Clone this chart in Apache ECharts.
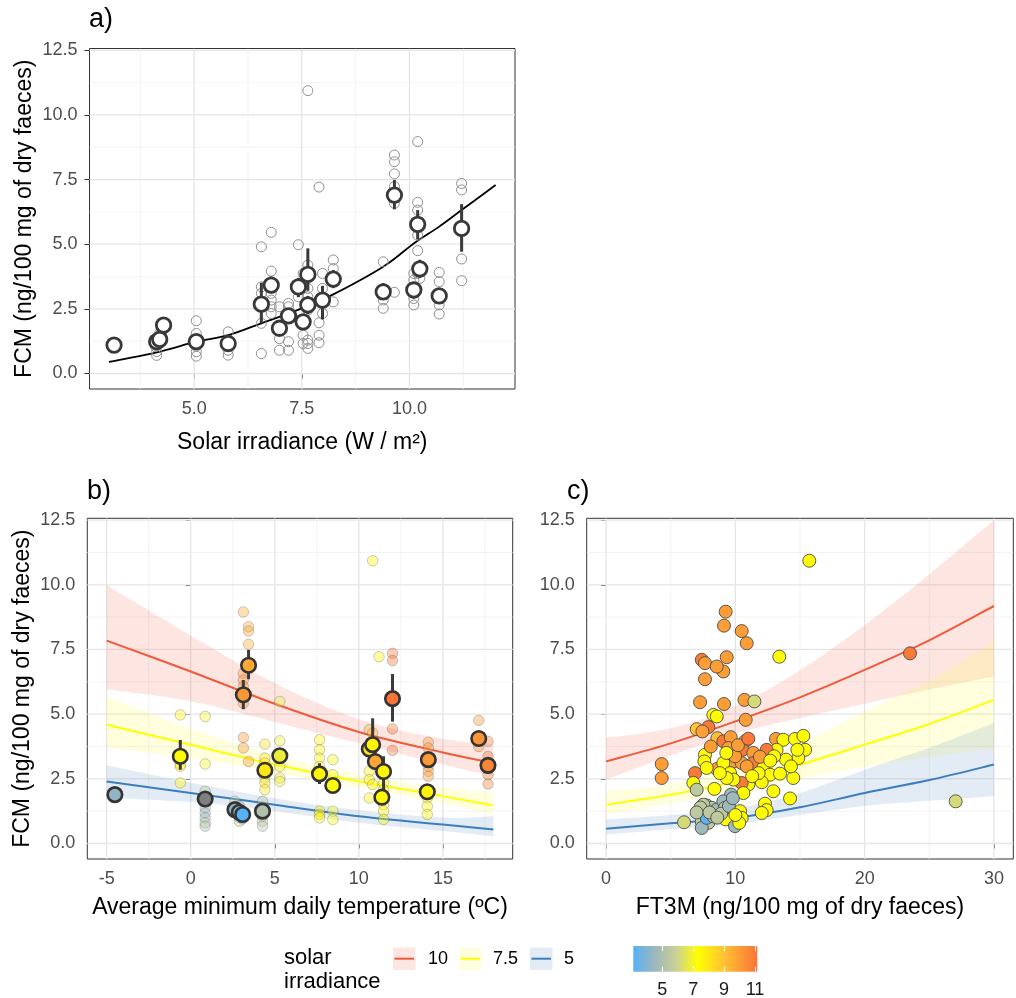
<!DOCTYPE html>
<html><head><meta charset="utf-8">
<script src="https://cdn.jsdelivr.net/npm/echarts@6/dist/echarts.min.js"></script>
<style>html,body{margin:0;padding:0;background:#fff}#c{width:1016px;height:998px}</style>
</head><body><div id="c"></div>
<script>
// ---------------- DATA ----------------
// Panel a: raw observations (solar irradiance, FCM)
const aRawIrr = [4.13,4.13,4.2,4.25,4.1,3.14,5.05,5.05,5.05,5.05,5.05,5.05,5.79,5.79,5.79,5.79,6.56,6.56,6.56,6.56,6.56,6.79,6.79,6.79,6.79,6.79,6.79,6.98,6.98,6.98,6.98,7.19,7.19,7.19,7.19,7.42,7.42,7.42,7.53,7.53,7.53,7.64,7.64,7.64,7.64,7.64,7.64,7.64,7.64,7.9,7.98,7.98,7.9,7.98,7.9,7.9,7.9,8.23,8.23,8.23,9.39,9.39,9.39,9.65,9.65,9.65,9.65,9.65,9.65,10.1,10.1,10.1,10.1,10.19,10.19,10.19,10.19,10.19,10.19,10.24,10.69,10.69,10.69,10.69,11.21,11.21,11.21,11.21];
const aRawFcm = [0.7,0.85,1.55,1.6,1.05,1.1,2.04,1.55,1.29,1.06,0.84,0.67,1.61,1.1,0.9,0.71,4.9,0.77,1.94,3.1,3.35,5.46,3.96,3.1,2.58,2.32,2.84,2.58,1.68,1.35,0.9,2.71,2.58,1.23,0.9,4.98,3.23,2.97,3.87,1.48,1.16,10.94,4.19,3.29,2.97,2.45,1.29,1.16,0.97,7.21,3.87,3.29,2.84,2.32,1.96,1.48,1.19,4.39,4.06,2.77,4.32,2.84,2.52,8.45,8.19,7.72,7.23,6.58,3.14,3.87,3.61,2.9,2.65,8.97,6.62,6.32,5.35,4.75,3.87,3.68,3.91,3.55,2.65,2.30,7.35,7.10,4.43,3.59];
// Panel a: means with error bars
const aMeanIrr = [3.14,4.13,4.20,4.29,5.05,5.79,6.56,6.79,6.98,7.19,7.42,7.53,7.64,7.64,7.98,8.23,9.39,9.65,10.10,10.19,10.24,10.69,11.21];
const aMeanFcm = [1.10,1.23,1.32,1.87,1.23,1.16,2.68,3.42,1.75,2.23,3.35,2.00,3.83,2.65,2.84,3.65,3.16,6.90,3.23,5.77,4.05,3.00,5.61];
const aMeanLo  = [0.95,1.00,1.10,1.65,1.00,0.95,1.94,3.10,1.45,1.95,2.95,1.70,3.20,2.30,2.09,3.30,2.85,6.35,2.90,5.19,3.70,2.70,4.71];
const aMeanHi  = [1.25,1.45,1.55,2.10,1.45,1.35,3.51,3.75,2.00,2.50,3.70,2.30,4.84,3.00,3.39,4.00,3.50,7.48,3.55,6.32,4.40,3.30,6.55];
// Panel a: fitted curve
const aFitIrr = [3.02,4.13,5.05,5.79,6.56,7.5,8.23,9.39,10.1,10.69,11.21,12.0];
const aFitFcm = [0.45,0.82,1.23,1.48,1.94,2.52,3.06,4.13,5.03,5.68,6.32,7.29];

// Panel b: raw observations (temperature, FCM, irradiance)
const bRawTemp = [-0.62,-0.62,-0.62,-0.62,0.86,0.86,0.86,0.86,0.86,0.86,0.86,0.86,0.86,2.63,2.89,2.89,2.89,3.09,3.13,3.44,3.44,3.44,3.13,3.13,3.13,3.13,3.13,3.13,3.44,4.27,4.27,4.27,4.27,4.27,4.41,4.41,4.41,4.41,4.41,4.41,5.3,5.3,5.3,5.3,5.3,7.66,7.66,7.66,7.66,7.66,7.66,7.66,8.45,8.45,8.45,8.45,10.82,10.62,10.82,10.62,10.62,10.82,10.62,11.2,11.47,11.47,11.47,11.47,11.47,12.0,12.0,12.0,12.0,14.13,14.13,14.13,14.13,14.13,14.07,14.07,14.07,17.13,17.13,17.68,17.68,17.68,17.68];
const bRawFcm  = [4.97,3.05,2.98,2.34,4.91,3.07,2.02,1.63,1.38,1.18,0.99,0.8,0.67,1.63,1.45,1.0,0.86,0.95,8.95,8.38,8.21,7.70,6.58,6.32,6.07,5.42,4.1,3.69,3.17,1.63,1.4,1.05,0.86,0.67,3.84,3.3,3.11,2.53,2.34,2.08,5.49,3.97,2.98,2.53,2.4,4.01,3.62,3.3,2.98,1.25,1.12,0.99,3.24,2.66,1.25,0.93,10.93,4.4,4.27,2.79,2.47,2.28,1.76,7.22,2.34,2.08,1.5,1.25,0.93,7.35,7.07,4.43,3.6,3.91,3.69,2.98,2.79,2.6,1.76,1.44,1.12,4.76,3.75,3.95,3.37,2.66,2.3];
const bRawIrr  = [7.4,7.4,7.4,7.4,7.0,7.0,5.5,4.8,4.5,4.5,4.5,5.5,5.0,5.5,4.3,4.2,5.5,3.2,9.6,9.6,9.6,9.6,10.2,10.2,10.2,10.2,10.2,10.2,10.2,5.3,5.3,5.3,5.3,5.3,8.0,8.0,8.0,8.0,8.0,8.0,6.8,6.8,6.8,6.8,6.8,7.6,7.6,7.6,7.6,7.6,7.6,7.6,7.2,7.2,7.2,7.2,7.6,9.4,9.4,7.6,7.6,7.6,7.6,7.6,7.5,7.5,7.5,7.5,7.5,11.2,11.2,11.2,11.2,10.1,10.1,10.1,10.1,10.1,7.5,7.5,7.5,10.2,10.2,10.7,10.7,10.7,10.7];
// Panel b: means with error bars
const bMeanTemp = [-4.51,-0.62,0.86,2.63,2.89,3.09,3.13,3.44,4.27,4.41,5.30,7.66,8.45,10.62,10.82,10.98,11.47,11.37,12.0,14.13,14.07,17.13,17.68];
const bMeanFcm  = [1.89,3.37,1.72,1.31,1.21,1.12,5.75,6.89,1.25,2.83,3.39,2.69,2.24,3.65,3.82,3.17,2.78,1.79,5.60,3.24,2.00,4.06,3.02];
const bMeanIrr  = [4.29,7.42,null,4.20,4.13,3.14,10.19,9.65,5.05,7.98,6.79,7.64,7.19,8.23,7.64,9.8,7.6,7.53,11.21,10.1,7.6,10.24,10.69];
const bMeanLo   = [1.70,2.85,1.55,1.20,1.10,1.00,5.19,6.35,1.10,2.60,3.20,2.30,2.05,3.40,3.20,2.90,2.08,1.60,4.71,3.00,1.80,3.80,2.80];
const bMeanHi   = [2.05,4.00,1.90,1.45,1.35,1.25,6.32,7.48,1.40,3.05,3.60,3.10,2.45,3.90,4.84,3.45,3.37,2.00,6.55,3.50,2.20,4.30,3.25];
// Panel b: model predictions at irradiance 10 / 7.5 / 5
const bPredTemp = [-5,0,5,10,15,18];
const bFit10 = [7.84,6.65,5.40,4.31,3.52,3.11];
const bLo10  = [5.96,5.50,4.70,3.87,3.05,2.60];
const bHi10  = [9.99,8.04,6.20,4.80,4.05,3.85];
const bFit75 = [4.59,3.82,3.05,2.40,1.83,1.47];
const bLo75  = [3.69,3.30,2.75,2.15,1.55,1.12];
const bHi75  = [5.68,4.45,3.40,2.68,2.15,1.96];
const bFit5  = [2.40,1.95,1.50,1.05,0.73,0.54];
const bLo5   = [1.76,1.60,1.25,0.80,0.48,0.28];
const bHi5   = [3.02,2.35,1.75,1.28,1.00,1.05];

// Panel c: observations (FT3M, FCM, irradiance)
const cFt3m = [15.72,9.25,9.12,10.49,10.88,13.40,23.51,7.40,7.65,9.07,9.33,8.56,7.65,7.27,9.12,10.70,11.47,8.30,8.56,10.80,7.91,7.01,7.45,8.61,9.07,9.64,10.75,9.46,10.54,13.14,13.71,14.61,15.26,15.39,14.87,13.19,12.42,11.39,7.65,7.60,9.85,10.49,11.39,10.88,6.88,8.56,7.78,9.07,9.59,12.16,12.68,13.45,14.48,13.92,12.04,12.94,11.01,10.49,9.85,9.33,6.75,8.38,7.01,10.62,9.67,14.23,4.30,4.30,12.29,12.42,12.04,10.36,10.49,9.25,7.78,8.17,7.53,8.56,9.07,9.20,9.97,6.03,7.40,7.91,7.40,7.78,27.04,13.0,11.8,14.3,14.8,11.3,8.1,9.98,9.3,8.8,11.9,12.7,8.3,8.9,10.2,11.0,7.3,7.0,8.0,8.6,9.5,10.3,10.0,9.8];
const cFcm  = [10.93,8.96,8.42,8.21,7.74,7.22,7.35,7.10,6.97,6.65,7.20,6.84,6.35,5.46,5.39,5.55,5.49,4.97,4.91,4.78,4.50,4.42,4.33,4.07,3.95,4.11,3.95,3.69,3.62,4.04,4.01,4.04,4.16,3.62,3.30,3.62,3.62,3.50,3.43,3.17,3.17,3.11,3.11,2.98,2.72,2.88,2.92,3.11,2.72,2.92,2.66,2.70,2.53,3.24,2.37,2.02,2.28,2.34,2.47,2.53,2.34,2.11,2.08,1.95,1.89,1.74,3.07,2.53,1.54,1.29,1.18,1.25,0.99,0.93,1.47,1.38,1.50,1.31,1.63,1.38,0.67,0.82,0.84,0.80,0.60,0.99,1.63,3.37,2.72,2.98,3.62,2.60,3.75,3.37,3.50,2.72,3.35,3.20,1.05,1.15,3.80,4.05,1.39,1.20,1.20,1.00,1.45,0.80,1.10,1.75];
const cIrr  = [7.4,10,10,10,10,7.4,11,11,10,10,10,10,10,10,10,10,6.2,7.4,7.4,10,11,9,10,9,11,10,10,10,11,10,7.4,7.4,7.4,7.4,7.4,7.4,11,10,7.4,7.4,10,10,11,10,11,10,7.4,7.4,7.4,7.4,7.4,7.4,7.4,7.4,7.4,7.4,7.4,11,7.4,7.4,7.4,7.4,5.5,7.4,4.6,7.4,10,10,7.4,7.4,7.4,7.4,7.4,7.4,5.5,5.5,5.5,4.6,4.6,5.5,4.6,6.2,5.5,5.5,4.6,3.3,6.2,7.4,7.4,7.4,7.4,7.4,10,10,7.4,7.4,10,7.4,5.5,5.5,10,11,5.5,5.5,5.5,5.5,4.6,7.4,7.4,4.6];
// Panel c: model predictions
const cPredFt3m = [0,5,10,15,20,25,30];
const cFit10 = [3.17,3.87,4.72,5.65,6.71,7.85,9.18];
const cLo10  = [2.47,3.40,4.25,4.85,5.40,5.95,6.45];
const cHi10  = [4.08,4.45,5.30,6.70,8.45,10.40,12.50];
const cFit75 = [1.50,1.88,2.40,3.05,3.82,4.62,5.55];
const cLo75  = [1.12,1.55,2.00,2.50,2.98,3.35,3.69];
const cHi75  = [2.02,2.30,2.90,3.85,5.10,6.30,7.80];
const cFit5  = [0.57,0.78,0.99,1.40,1.95,2.45,3.05];
const cLo5   = [0.35,0.55,0.75,1.10,1.45,1.65,1.83];
const cHi5   = [0.93,1.10,1.35,1.95,2.85,3.70,4.66];

// Axis ticks / labels
const yTicks = [0, 2.5, 5, 7.5, 10, 12.5];
const yMinor = [1.25, 3.75, 6.25, 8.75, 11.25];
const aXTicks = [5, 7.5, 10];
const aXMinor = [3.75, 6.25, 8.75, 11.25];
const bXTicks = [-5, 0, 5, 10, 15];
const bXMinor = [-2.5, 2.5, 7.5, 12.5, 17.5];
const cXTicks = [0, 10, 20, 30];
const cXMinor = [5, 15, 25];
const cbTicks = [5, 7, 9, 11];
const legendLevels = ['10', '7.5', '5'];

// ---------------- STYLE ----------------
const FF = '"Liberation Sans", Arial, Helvetica, sans-serif';
const Y_RANGE = [-0.6, 12.57];
const A_X = [2.57, 12.45], B_X = [-6.15, 19.15], C_X = [-1.5, 31.5], CB_X = [3.13, 11.15];
const COLOR_STOPS = [[3.13,'#56b1f7'],[4.3,'#93b5c5'],[5.0,'#adbfae'],[6.0,'#cdd38f'],[7.3,'#ffff00'],[9.0,'#ffc234'],[11.15,'#f97436']];
const LINE_COLORS = {'10':'#ef5a3a','7.5':'#ffff00','5':'#3b7dbd'};
const RIB_COLORS = {'10':'rgba(241,90,58,0.15)','7.5':'rgba(255,255,0,0.13)','5':'rgba(70,130,180,0.15)'};

function hex2rgb(h){h=h.replace('#','');return [parseInt(h.slice(0,2),16),parseInt(h.slice(2,4),16),parseInt(h.slice(4,6),16)];}
function irrColor(v){
  if (v === null || v === undefined) return '#7f7f7f';
  const s = COLOR_STOPS;
  if (v <= s[0][0]) return s[0][1];
  if (v >= s[s.length-1][0]) return s[s.length-1][1];
  for (let i=0;i<s.length-1;i++){
    if (v>=s[i][0] && v<=s[i+1][0]){
      const t=(v-s[i][0])/(s[i+1][0]-s[i][0]);
      const a=hex2rgb(s[i][1]), b=hex2rgb(s[i+1][1]);
      return 'rgb('+a.map((c,k)=>Math.round(c+(b[k]-c)*t)).join(',')+')';
    }
  }
}
// Catmull-Rom -> cubic bezier segments through pixel points (rendering only)
function spl(P){
  let s='';
  for (let i=0;i<P.length-1;i++){
    const p0=P[i-1]||P[i], p1=P[i], p2=P[i+1], p3=P[i+2]||P[i+1];
    const c1=[p1[0]+(p2[0]-p0[0])/6, p1[1]+(p2[1]-p0[1])/6];
    const c2=[p2[0]-(p3[0]-p1[0])/6, p2[1]-(p3[1]-p1[1])/6];
    s+='C'+c1[0]+','+c1[1]+' '+c2[0]+','+c2[1]+' '+p2[0]+','+p2[1];
  }
  return s;
}

const chart = echarts.init(document.getElementById('c'), null, {renderer:'canvas', width:1016, height:998});

function gridBox(left, top, width, height){
  return {left, top, width, height, show:true, borderColor:'#333333', borderWidth:1, backgroundColor:'#ffffff', containLabel:false, outerBoundsMode:'none'};
}
function xAx(gi, range, ticks, name, gap){
  return {type:'value', gridIndex:gi, min:range[0], max:range[1],
    axisLine:{show:false},
    axisTick:{show:true, customValues:ticks, length:5, lineStyle:{color:'#333333', width:1}},
    axisLabel:{customValues:ticks, color:'#4d4d4d', fontSize:18, margin:11, fontFamily:FF,
      formatter: gi===0 ? (v=>Number(v).toFixed(1)) : (v=>String(v))},
    splitLine:{show:false},
    name:name, nameLocation:'middle', nameGap:gap,
    nameTextStyle:{fontSize:23, color:'#000', fontFamily:FF}};
}
function yAx(gi, withName){
  return {type:'value', gridIndex:gi, min:Y_RANGE[0], max:Y_RANGE[1],
    axisLine:{show:false},
    axisTick:{show:true, customValues:yTicks, length:5, lineStyle:{color:'#333333', width:1}},
    axisLabel:{customValues:yTicks, color:'#4d4d4d', fontSize:18, margin:12, fontFamily:FF, formatter:v=>Number(v).toFixed(1)},
    splitLine:{show:false},
    name: withName ? 'FCM (ng/100 mg of dry faeces)' : '', nameLocation:'middle', nameGap:53, nameRotate:90,
    nameTextStyle:{fontSize:23, color:'#000', fontFamily:FF}};
}
function gridLines(ai, xr, xMaj, xMin){
  return {type:'custom', xAxisIndex:ai, yAxisIndex:ai, z:1, silent:true, clip:true,
    data:[[xr[0], Y_RANGE[0]]],
    renderItem:(p, api)=>{
      const ch=[];
      const add=(x1,y1,x2,y2,maj)=>{const a=api.coord([x1,y1]), b=api.coord([x2,y2]);
        ch.push({type:'line', shape:{x1:a[0],y1:a[1],x2:b[0],y2:b[1]}, style:{stroke: maj?'#e5e5e5':'#f0f0f0', lineWidth: maj?1.3:0.8}});};
      yMinor.forEach(y=>add(xr[0],y,xr[1],y,false));
      xMin.forEach(x=>add(x,Y_RANGE[0],x,Y_RANGE[1],false));
      yTicks.forEach(y=>add(xr[0],y,xr[1],y,true));
      xMaj.forEach(x=>add(x,Y_RANGE[0],x,Y_RANGE[1],true));
      return {type:'group', children:ch};
    }};
}
function ribbon(ai, xs, lo, hi, key){
  return {type:'custom', xAxisIndex:ai, yAxisIndex:ai, z:2, silent:true, clip:true,
    data:[[xs[0], lo[0]]],
    renderItem:(p, api)=>{
      const up = xs.map((x,i)=>api.coord([x, hi[i]]));
      const dn = xs.map((x,i)=>api.coord([x, lo[i]])).reverse();
      const d = 'M'+up[0][0]+','+up[0][1]+spl(up)+'L'+dn[0][0]+','+dn[0][1]+spl(dn)+'Z';
      return {type:'path', shape:{pathData:d}, style:{fill:RIB_COLORS[key], stroke:null}};
    }};
}
function fitLine(ai, xs, ys, color, w){
  return {type:'custom', xAxisIndex:ai, yAxisIndex:ai, z:3, silent:true, clip:true,
    data:[[xs[0], ys[0]]],
    renderItem:(p, api)=>{
      const P = xs.map((x,i)=>api.coord([x, ys[i]]));
      const d = 'M'+P[0][0]+','+P[0][1]+spl(P);
      return {type:'path', shape:{pathData:d}, style:{fill:null, stroke:color, lineWidth:w}};
    }};
}
function errBars(ai, xs, lo, hi){
  return {type:'custom', xAxisIndex:ai, yAxisIndex:ai, z:5, silent:true,
    data: xs.map((x,i)=>[x, lo[i], hi[i]]), encode:{x:0, y:[1,2]},
    renderItem:(p, api)=>{const a=api.coord([api.value(0), api.value(1)]), b=api.coord([api.value(0), api.value(2)]);
      return {type:'line', shape:{x1:a[0],y1:a[1],x2:b[0],y2:b[1]}, style:{stroke:'#3a3a3a', lineWidth:3}};}};
}

const series = [];
// Panel a
series.push(gridLines(0, A_X, aXTicks, aXMinor));
series.push(fitLine(0, aFitIrr, aFitFcm, '#000000', 1.8));
series.push({type:'scatter', xAxisIndex:0, yAxisIndex:0, z:4, silent:true, symbol:'circle', symbolSize:10,
  itemStyle:{color:'rgba(255,255,255,0)', borderColor:'#8f8f8f', borderWidth:1, opacity:1},
  data: aRawIrr.map((x,i)=>[x, aRawFcm[i]])});
series.push(errBars(0, aMeanIrr, aMeanLo, aMeanHi));
series.push({type:'scatter', xAxisIndex:0, yAxisIndex:0, z:6, silent:true, symbol:'circle', symbolSize:14.5,
  itemStyle:{color:'#ffffff', borderColor:'#383838', borderWidth:2.8, opacity:1},
  data: aMeanIrr.map((x,i)=>[x, aMeanFcm[i]])});
// Panel b
series.push(gridLines(1, B_X, bXTicks, bXMinor));
series.push(ribbon(1, bPredTemp, bLo10, bHi10, '10'));
series.push(ribbon(1, bPredTemp, bLo75, bHi75, '7.5'));
series.push(ribbon(1, bPredTemp, bLo5, bHi5, '5'));
series.push(fitLine(1, bPredTemp, bFit10, LINE_COLORS['10'], 2));
series.push(fitLine(1, bPredTemp, bFit75, LINE_COLORS['7.5'], 2));
series.push(fitLine(1, bPredTemp, bFit5, LINE_COLORS['5'], 2));
series.push({type:'scatter', xAxisIndex:1, yAxisIndex:1, z:4, silent:true, symbol:'circle', symbolSize:10.5,
  itemStyle:{color:(p)=>irrColor(p.value[2]), borderColor:'#555555', borderWidth:0.8, opacity:0.38},
  data: bRawTemp.map((x,i)=>[x, bRawFcm[i], bRawIrr[i]])});
series.push(errBars(1, bMeanTemp, bMeanLo, bMeanHi));
series.push({type:'scatter', xAxisIndex:1, yAxisIndex:1, z:6, silent:true, symbol:'circle', symbolSize:14.5,
  itemStyle:{color:(p)=>irrColor(p.value[2]), borderColor:'#333333', borderWidth:2.6, opacity:1},
  data: bMeanTemp.map((x,i)=>[x, bMeanFcm[i], bMeanIrr[i]])});
// Panel c
series.push(gridLines(2, C_X, cXTicks, cXMinor));
series.push(ribbon(2, cPredFt3m, cLo10, cHi10, '10'));
series.push(ribbon(2, cPredFt3m, cLo75, cHi75, '7.5'));
series.push(ribbon(2, cPredFt3m, cLo5, cHi5, '5'));
series.push(fitLine(2, cPredFt3m, cFit10, LINE_COLORS['10'], 2));
series.push(fitLine(2, cPredFt3m, cFit75, LINE_COLORS['7.5'], 2));
series.push(fitLine(2, cPredFt3m, cFit5, LINE_COLORS['5'], 2));
series.push({type:'scatter', xAxisIndex:2, yAxisIndex:2, z:6, silent:true, symbol:'circle', symbolSize:13,
  itemStyle:{color:(p)=>irrColor(p.value[2]), borderColor:'#4a4a4a', borderWidth:0.9, opacity:1},
  data: cFt3m.map((x,i)=>[x, cFcm[i], cIrr[i]])});
// Colour bar
series.push({type:'custom', xAxisIndex:3, yAxisIndex:3, z:2, silent:true, data:[[CB_X[0], 0]],
  renderItem:(p, api)=>{
    const a=api.coord([CB_X[0],0]), b=api.coord([CB_X[1],1]);
    const stops = COLOR_STOPS.map(s=>({offset:(s[0]-CB_X[0])/(CB_X[1]-CB_X[0]), color:s[1]}));
    return {type:'rect', shape:{x:a[0], y:b[1], width:b[0]-a[0], height:a[1]-b[1]},
      style:{fill:new echarts.graphic.LinearGradient(0,0,1,0,stops)}};
  }});

// Legend (fitted-line keys)
const legendGraphics = [];
legendGraphics.push({type:'text', left:284, top:946, style:{text:'solar\nirradiance', font:'22px '+FF, lineHeight:24, fill:'#000'}});
const keyX = [393, 459, 530], labX = [428, 493, 564];
legendLevels.forEach((k,i)=>{
  legendGraphics.push({type:'rect', shape:{x:keyX[i], y:947.5, width:22.5, height:22.5}, style:{fill:RIB_COLORS[k]}});
  legendGraphics.push({type:'line', shape:{x1:keyX[i]+1.5, y1:958.7, x2:keyX[i]+21, y2:958.7}, style:{stroke:LINE_COLORS[k], lineWidth:2}});
  legendGraphics.push({type:'text', x:labX[i], y:958.7, style:{text:k, font:'18px '+FF, fill:'#000', verticalAlign:'middle', textAlign:'left'}});
});

const option = {
  animation:false,
  backgroundColor:'#ffffff',
  textStyle:{fontFamily:FF},
  title:[
    {text:'a)', left:89, top:6, padding:0, textStyle:{fontSize:27, fontWeight:'normal', color:'#000', fontFamily:FF}},
    {text:'b)', left:87, top:478, padding:0, textStyle:{fontSize:27, fontWeight:'normal', color:'#000', fontFamily:FF}},
    {text:'c)', left:567, top:478, padding:0, textStyle:{fontSize:27, fontWeight:'normal', color:'#000', fontFamily:FF}}
  ],
  grid:[
    gridBox(89.5, 48.5, 425.5, 340.5),
    gridBox(87.3, 518.3, 425.4, 340.7),
    gridBox(586.7, 518.3, 426.6, 340.7),
    {left:633.3, top:946, width:124, height:25.7, show:false, containLabel:false, outerBoundsMode:'none'}
  ],
  xAxis:[
    xAx(0, A_X, aXTicks, 'Solar irradiance (W / m²)', 42),
    xAx(1, B_X, bXTicks, 'Average minimum daily temperature (ºC)', 37),
    xAx(2, C_X, cXTicks, 'FT3M (ng/100 mg of dry faeces)', 37),
    {type:'value', gridIndex:3, min:CB_X[0], max:CB_X[1], z:10, position:'bottom',
      axisLine:{show:false}, splitLine:{show:false},
      axisTick:{show:true, inside:true, customValues:cbTicks, length:5, lineStyle:{color:'#ffffff', width:1}},
      axisLabel:{customValues:cbTicks, color:'#1a1a1a', fontSize:18, margin:9, fontFamily:FF}},
    {type:'value', gridIndex:3, min:CB_X[0], max:CB_X[1], z:10, position:'top',
      axisLine:{show:false}, splitLine:{show:false},
      axisTick:{show:true, inside:true, customValues:cbTicks, length:5, lineStyle:{color:'#ffffff', width:1}},
      axisLabel:{show:false}}
  ],
  yAxis:[
    yAx(0, true), yAx(1, true), yAx(2, false),
    {type:'value', gridIndex:3, min:0, max:1, show:false}
  ],
  series: series,
  graphic: legendGraphics
};
chart.setOption(option);
</script></body></html>
